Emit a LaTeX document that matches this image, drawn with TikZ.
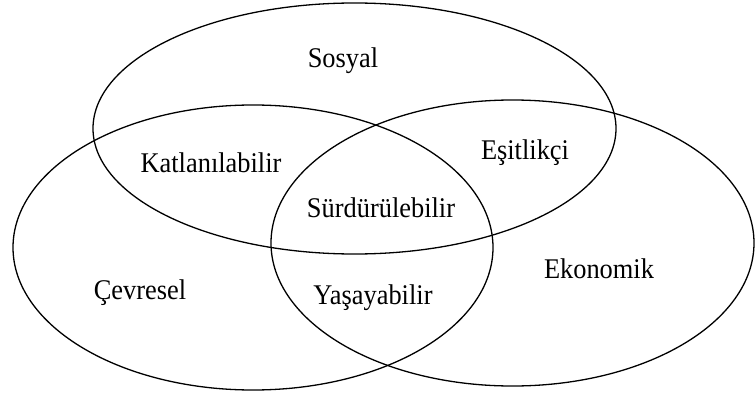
\documentclass[tikz,border=0pt]{standalone}
\usepackage{fontspec}
\setmainfont{Liberation Serif}
% slightly tall lettering for the set labels
\newcommand{\setname}[1]{\scalebox{1}[1.08]{#1}}
\begin{document}
\begin{tikzpicture}[x=1pt,y=-1pt,
  setring/.style={draw=black,line width=1.3pt},
  setlabel/.style={font=\fontsize{26.4}{30}\selectfont,anchor=base,inner sep=0pt}]
\useasboundingbox (0,0) rectangle (755,396);
% three overlapping sets
\draw[setring] (354.5,128.5) ellipse [x radius=261.5, y radius=125.5];
\draw[setring] (253,247.5) ellipse [x radius=240, y radius=142.5];
\draw[setring] (512.5,243) ellipse [x radius=241.5, y radius=143];
% region labels
\node[setlabel] (sos) at (343,67) {\setname{Sosyal}};
\node[setlabel] (kat) at (211,172) {\setname{Katlanılabilir}};
\node[setlabel] (esi) at (525,159) {\setname{Eşitlikçi}};
\node[setlabel] (sur) at (381,217) {\setname{Sürdürülebilir}};
\node[setlabel] (eko) at (599,278) {\setname{Ekonomik}};
\node[setlabel] (cev) at (140,299) {\setname{Çevresel}};
\node[setlabel] (yas) at (373,304) {\setname{Yaşayabilir}};
\end{tikzpicture}
\end{document}
